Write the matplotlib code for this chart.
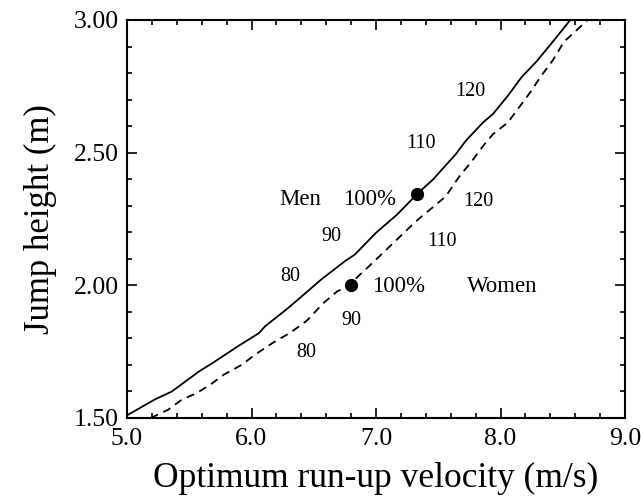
import matplotlib
matplotlib.use("Agg")
import matplotlib.pyplot as plt
from matplotlib.ticker import MultipleLocator, FormatStrFormatter

plt.rcParams['font.family'] = ['Liberation Serif', 'DejaVu Serif']

men_v = [5.0, 5.22, 5.36, 5.58, 5.69, 5.89, 6.06, 6.11, 6.28, 6.40, 6.56, 6.75, 6.83,
         7.0, 7.17, 7.33, 7.46, 7.64, 7.72, 7.86, 7.94, 8.06, 8.17, 8.29, 8.42, 8.56]
men_h = [1.51, 1.569, 1.60, 1.676, 1.708, 1.77, 1.82, 1.846, 1.909, 1.957, 2.022, 2.091, 2.116,
         2.198, 2.267, 2.344, 2.40, 2.494, 2.544, 2.614, 2.646, 2.715, 2.785, 2.844, 2.918, 3.0]

women_v = [5.19, 5.33, 5.44, 5.56, 5.67, 5.78, 5.92, 6.03, 6.17, 6.31, 6.44, 6.58, 6.69, 6.80,
           6.83, 7.0, 7.14, 7.28, 7.35, 7.42, 7.56, 7.67, 7.76, 7.86, 7.94, 8.06, 8.14, 8.24,
           8.32, 8.42, 8.51, 8.70]
women_h = [1.50, 1.531, 1.569, 1.594, 1.626, 1.664, 1.70, 1.739, 1.783, 1.821, 1.865, 1.934, 1.978, 2.0,
           2.022, 2.097, 2.16, 2.223, 2.253, 2.28, 2.335, 2.411, 2.462, 2.525, 2.57, 2.614, 2.665, 2.728,
           2.785, 2.848, 2.918, 3.0]

opt_v = [7.327, 6.797]
opt_h = [2.344, 2.001]

label_text = ["120", "110", "Men", "100%", "120", "110", "90", "80", "100%", "Women", "90", "80"]
label_x = [7.76, 7.36, 6.39, 6.95, 7.82, 7.53, 6.64, 6.31, 7.18, 8.01, 6.80, 6.44]
label_y = [2.73, 2.535, 2.323, 2.325, 2.316, 2.167, 2.183, 2.032, 1.994, 1.994, 1.869, 1.745]
label_big = [False, False, True, True, False, False, False, False, True, True, False, False]

fig = plt.figure(figsize=(6.41, 5.01), dpi=100)
ax = fig.add_axes([127/641, 1-418/501, (625-127)/641, (418-20)/501])

ax.plot(men_v, men_h, color='black', lw=1.3, ls='-')
ax.plot(women_v, women_h, color='black', lw=1.3, ls=(0, (4.5, 3.2)))
ax.plot(opt_v, opt_h, 'o', color='black', markersize=8.5, ls='none')

for t, x, y, big in zip(label_text, label_x, label_y, label_big):
    ax.text(x, y, t, fontsize=16.5 if big else 14.5, ha='center', va='center')

ax.set_xlim(5.0, 9.0)
ax.set_ylim(1.5, 3.0)
ax.xaxis.set_major_locator(MultipleLocator(1.0))
ax.xaxis.set_minor_locator(MultipleLocator(0.2))
ax.yaxis.set_major_locator(MultipleLocator(0.5))
ax.yaxis.set_minor_locator(MultipleLocator(0.1))
ax.xaxis.set_major_formatter(FormatStrFormatter('%.1f'))
ax.yaxis.set_major_formatter(FormatStrFormatter('%.2f'))
ax.tick_params(which='both', direction='in', top=True, right=True, width=1.2, labelsize=18.5)
ax.tick_params(which='major', length=7.2)
ax.tick_params(which='minor', length=3.8)
ax.tick_params(axis='x', which='major', pad=7)
ax.tick_params(axis='y', which='major', pad=6)
for s in ax.spines.values():
    s.set_linewidth(1.5)

ax.set_xlabel("Optimum run-up velocity (m/s)", fontsize=25.5, labelpad=9)
ax.set_ylabel("Jump height (m)", fontsize=25, labelpad=12)

fig.savefig("out.png", dpi=100)
